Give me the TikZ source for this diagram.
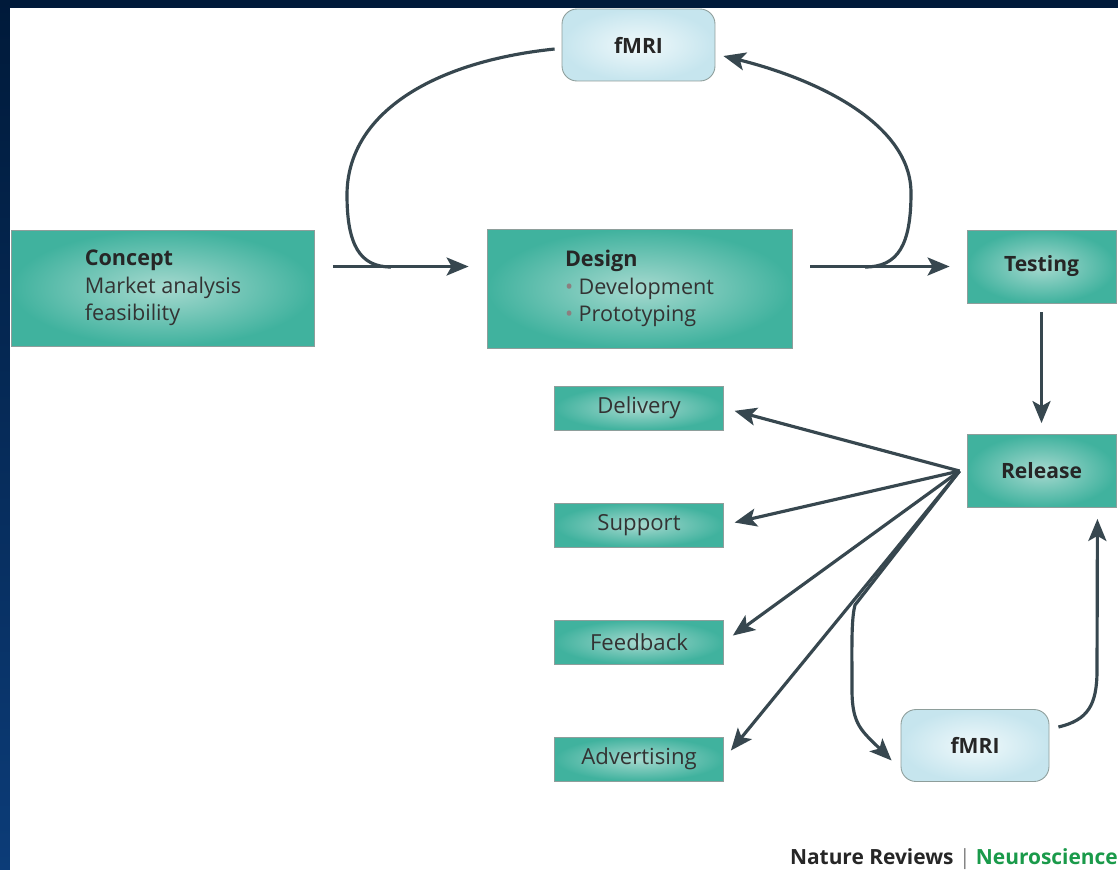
\documentclass[tikz,border=0pt]{standalone}
\usepackage{fontspec}
\setmainfont{Open Sans}
\usetikzlibrary{arrows.meta,positioning}
\definecolor{navytop}{HTML}{001A3A}
\definecolor{navybot}{HTML}{0C3C78}
\definecolor{tealout}{HTML}{40B29E}
\definecolor{tealin}{HTML}{A6D9CF}
\definecolor{skyout}{HTML}{C6E5EE}
\definecolor{skyin}{HTML}{F0F9FB}
\definecolor{boxline}{HTML}{8E9E9B}
\definecolor{flowline}{HTML}{37474F}
\definecolor{ink}{HTML}{333333}
\definecolor{dot}{HTML}{8C7F7F}
\definecolor{neuro}{HTML}{1A9A4A}

\begin{document}
\begin{tikzpicture}[x=0.02cm,y=-0.02cm,
  stage/.style={draw=boxline,line width=0.5pt,inner color=tealin,outer color=tealout,
    text=ink,align=left,font=\fontsize{12.3}{15.6}\selectfont},
  task/.style={stage,minimum width=3.38cm,minimum height=0.88cm,align=center,
    font=\fontsize{12.6}{14}\selectfont},
  gate/.style={stage,minimum width=2.98cm,minimum height=1.46cm,align=center,
    font=\fontsize{12}{14}\selectfont\bfseries,text=black!85},
  scan/.style={draw=boxline,line width=0.5pt,rounded corners=0.3cm,inner color=skyin,
    outer color=skyout,minimum height=1.44cm,font=\fontsize{12}{14}\selectfont\bfseries,text=black!85},
  line/.style={draw=flowline,line width=1.8pt},
  flow/.style={line,-{Stealth[length=0.44cm,width=0.36cm,inset=0.1cm]}}]
\useasboundingbox (0,0) rectangle (1118,869);
\shade[top color=navytop,bottom color=navybot] (0,0) rectangle (1118,869);
\fill[white] (10,8) rectangle (1120,872);

\node[stage,minimum width=6.06cm,minimum height=2.32cm] (concept) at (163,288)
  {\textbf{\color{black!85}Concept}\\Market analysis\\feasibility};
\node[stage,minimum width=6.1cm,minimum height=2.38cm] (design) at (639.5,288.5)
  {\textbf{\color{black!85}Design}\\{\color{dot}•} Development\\{\color{dot}•} Prototyping};
\node[gate] (testing) at (1041.5,266.5) {Testing};
\node[gate] (release) at (1041.5,471) {Release};
\node[scan,minimum width=3.06cm] (fmriA) at (638.5,45) {fMRI};
\node[scan,minimum width=2.96cm] (fmriB) at (975,745.5) {fMRI};

\foreach \name/\label/\y in {delivery/Delivery/408,support/Support/525,
  feedback/Feedback/642,advertising/Advertising/759} {
\node[task] (\name) at (639,\y) {\label};
}

\coordinate (joinL) at (391,267);
\coordinate (joinR) at (865,267);
\coordinate (hub) at ([xshift=-0.14cm]release.west);
\coordinate (split) at (855,605);

\draw[flow,shorten <=0.36cm,shorten >=0.36cm] (concept.east |- testing.west) -- (design.west |- testing.west);
\draw[flow,shorten <=0.36cm,shorten >=0.34cm] (design.east |- testing.west) -- (testing.west);
\draw[line] ([xshift=-0.14cm,yshift=-0.08cm]fmriA.west) .. controls (430,62) and (347,115) .. (347,195)
  .. controls (347,245) and (360,267) .. (joinL);
\draw[flow] (joinR) .. controls (898,267) and (911,245) .. (911,193)
  .. controls (911,125) and (820,80) .. ([xshift=0.16cm,yshift=-0.22cm]fmriA.east);
\draw[flow,shorten <=0.18cm,shorten >=0.22cm] (testing) -- (release);

\foreach \name in {delivery,support,feedback,advertising} {
\draw[flow,shorten >=0.22cm] (hub) -- (\name.east);
}
\draw[flow] (hub) -- (split) .. controls (851,620) and (852,650) .. (852,690)
  .. controls (852,725) and (862,731) .. ([xshift=-0.18cm,yshift=-0.3cm]fmriB.west);
\draw[flow] ([xshift=0.18cm,yshift=0.37cm]fmriB.east) .. controls (1088,720) and (1097,705) .. (1097,670)
  -- ([xshift=-0.38cm,yshift=-0.22cm]release.south east);

\node[anchor=base east,font=\fontsize{11.9}{14}\selectfont\bfseries] (credit) at (1124,864)
  {\color{black!85}Nature Reviews {\color{gray}\textmd{|}} \color{neuro}Neuroscience};
\end{tikzpicture}
\end{document}
